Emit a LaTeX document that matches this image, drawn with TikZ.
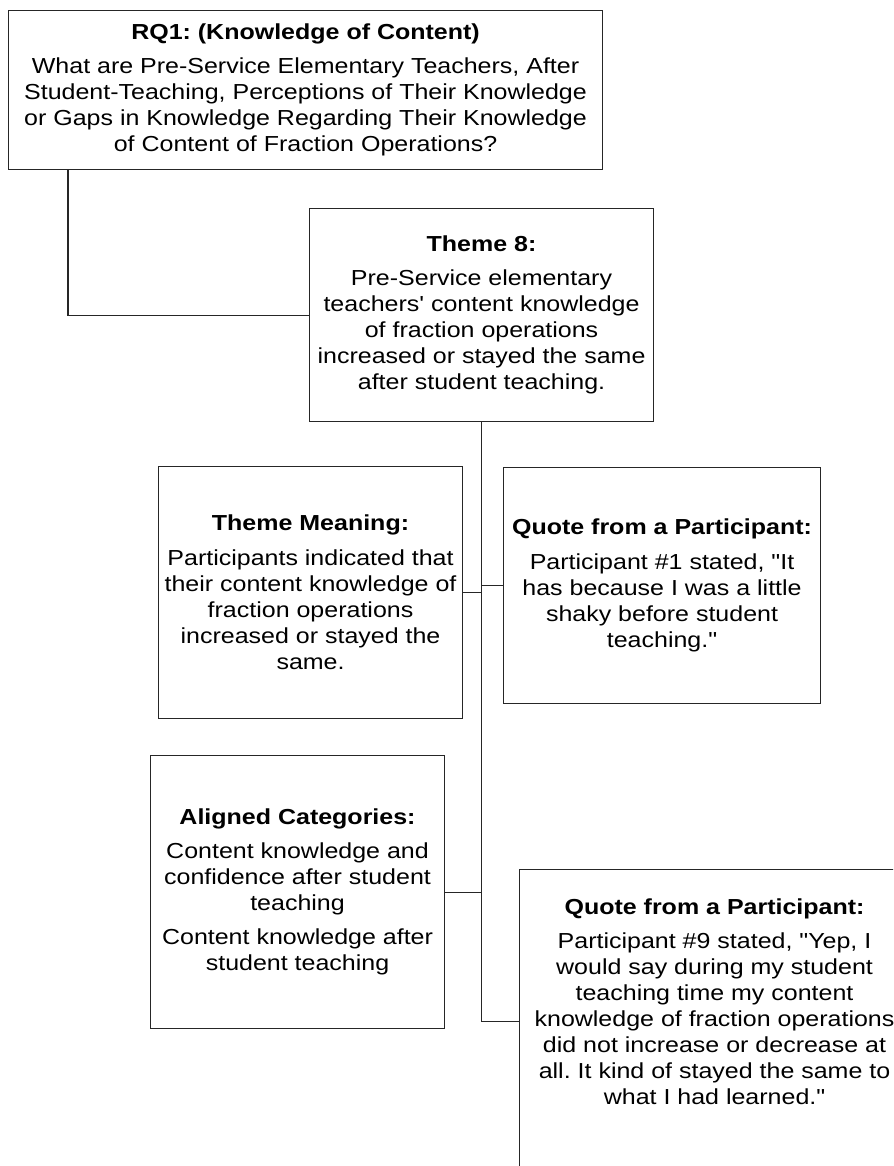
\documentclass[tikz,border=0pt]{standalone}
\usepackage{fontspec}
\usepackage{tikz}
\usetikzlibrary{positioning,calc}
\newfontfamily\diagfont{Liberation Sans}[FakeStretch=1.15]
\definecolor{FrameInk}{gray}{0.15}
\newcommand{\boxtitle}[1]{{\bfseries #1}\\[6.5pt]}
\frenchspacing

\begin{document}
\begin{tikzpicture}[x=0.75pt,y=-0.75pt,
  card/.style={draw=FrameInk,line width=0.8pt,fill=white,anchor=north west,inner sep=0pt,align=center,font=\diagfont\fontsize{16.3}{19.5}\selectfont},
  link/.style={draw=FrameInk,line width=0.8pt}]
  \useasboundingbox (0,0) rectangle (893,1166);
  \clip (0,0) rectangle (893,1166);
  % research question and theme
  \node[card,minimum width=445.5pt,minimum height=119.25pt] (rq) at (8,10) {\boxtitle{RQ1: (Knowledge of Content)}What are Pre-Service Elementary Teachers, After\\Student-Teaching, Perceptions of Their Knowledge\\or Gaps in Knowledge Regarding Their Knowledge\\of Content of Fraction Operations?};
  \node[card,minimum width=258pt,minimum height=159.75pt] (theme) at (309,208) {\boxtitle{Theme 8:}Pre-Service elementary\\teachers' content knowledge\\of fraction operations\\increased or stayed the same\\after student teaching.};
  % supporting boxes
  \node[card,minimum width=228pt,minimum height=189pt] (meaning) at (158,466) {\boxtitle{Theme Meaning:}Participants indicated that\\their content knowledge of\\fraction operations\\increased or stayed the\\same.};
  \node[card,minimum width=237.75pt,minimum height=177pt] (quoteA) at (503,467) {\boxtitle{Quote from a Participant:}Participant \#1 stated, "It\\has because I was a little\\shaky before student\\teaching."};
  \node[card,minimum width=220.5pt,minimum height=204.75pt] (aligned) at (150,755) {\boxtitle{Aligned Categories:}Content knowledge and\\confidence after student\\teaching\\[6pt]Content knowledge after\\student teaching};
  \node[card,minimum width=292.5pt,minimum height=228pt] (quoteB) at (519,869) {\boxtitle{Quote from a Participant:}Participant \#9 stated, "Yep, I\\would say during my student\\teaching time my content\\knowledge of fraction operations\\did not increase or decrease at\\all. It kind of stayed the same to\\what I had learned."\\[10.5pt]\mbox{}};
  % connectors
  \coordinate (rqleg) at (68,0);
  \draw[link] (rq.south -| rqleg) |- (theme.west);
  \draw[link] (theme.south) |- (quoteB.west);
  \draw[link] (meaning.east) -- (meaning.east -| theme.south);
  \draw[link] (quoteA.west) -- (quoteA.west -| theme.south);
  \draw[link] (aligned.east) -- (aligned.east -| theme.south);
\end{tikzpicture}
\end{document}
